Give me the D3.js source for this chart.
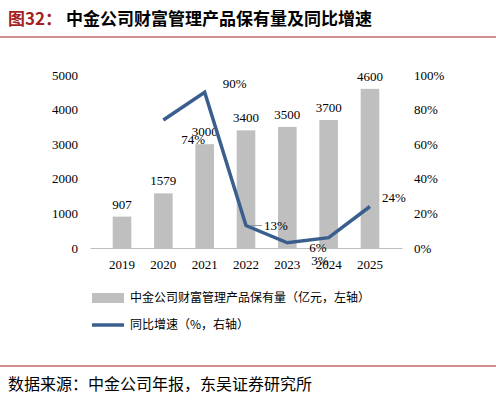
<!DOCTYPE html><html><head><meta charset="utf-8"><script src="https://cdn.jsdelivr.net/npm/d3@7"></script>
<style>body{margin:0;background:#fff}</style></head><body><svg id="c" width="496" height="402"></svg>
<script>
const years=["2019","2020","2021","2022","2023","2024","2025"];
const aum=[907,1579,3000,3400,3500,3700,4600];
const growth=[null,74,90,13,3,6,24];
const leftTicks=[0,1000,2000,3000,4000,5000];
const rightTicks=[0,20,40,60,80,100];
const svg=d3.select("#c");
const serif="'Liberation Serif','Times New Roman',serif", cjk="'Noto Sans CJK SC',sans-serif";
const t=svg.append("text").attr("x",8).attr("y",25).attr("font-family",cjk).attr("font-weight","bold").attr("font-size",17);
t.append("tspan").attr("fill","#a31f24").text("图32：");
t.append("tspan").attr("fill","#000").text(" 中金公司财富管理产品保有量及同比增速");
svg.append("line").attr("x1",0).attr("x2",496).attr("y1",37).attr("y2",37).attr("stroke","#a31f24").attr("stroke-width",1);
const x=d3.scaleBand().domain(years).range([90,402]).padding(0.55);
const y=d3.scaleLinear().domain([0,5000]).range([248,75]);
const y2=d3.scaleLinear().domain([0,100]).range([248,75]);
const ga=svg.append("g").attr("transform","translate(88,0)").call(d3.axisLeft(y).tickValues(leftTicks).tickSize(0).tickPadding(10).tickFormat(d=>String(d)));
ga.select(".domain").remove();
const gb=svg.append("g").attr("transform","translate(404,0)").call(d3.axisRight(y2).tickValues(rightTicks).tickSize(0).tickPadding(10).tickFormat(d=>d+"%"));
gb.select(".domain").remove();
const gx=svg.append("g").attr("transform","translate(0,248)").call(d3.axisBottom(x).tickSize(0).tickPadding(12));
gx.select(".domain").attr("stroke","#bfbfbf");
svg.selectAll(".tick text").attr("font-family",serif).attr("font-size",13).attr("fill","#000");
svg.selectAll(".bar").data(aum).join("rect").attr("x",(d,i)=>x(years[i])).attr("width",x.bandwidth()).attr("y",d=>y(d)).attr("height",d=>248-y(d)).attr("fill","#bfbfbf");
svg.selectAll(".bl").data(aum).join("text").attr("x",(d,i)=>x(years[i])+x.bandwidth()/2).attr("y",d=>y(d)-8).attr("text-anchor","middle").attr("font-family",serif).attr("font-size",13).text(d=>d);
const cx=i=>x(years[i])+x.bandwidth()/2;
const pts=growth.map((d,i)=>[i,d]).filter(p=>p[1]!=null);
svg.append("path").datum(pts).attr("d",d3.line().x(p=>cx(p[0])).y(p=>y2(p[1]))).attr("fill","none").attr("stroke","#3a5f8f").attr("stroke-width",3.5);
const off={1:[18,24,"start"],2:[18,-4,"start"],3:[18,4,"start"],4:[24,22,"start"],5:[-2,14,"end"],6:[12,-4,"start"]};
pts.forEach(([i,d])=>{const o=off[i];svg.append("text").attr("x",cx(i)+o[0]).attr("y",y2(d)+o[1]).attr("text-anchor",o[2]).attr("font-family",serif).attr("font-size",13).text(d+"%");});
svg.append("line").attr("x1",cx(3)+4).attr("x2",cx(3)+16).attr("y1",y2(13)).attr("y2",y2(13)).attr("stroke","#999");
svg.append("rect").attr("x",92).attr("y",293).attr("width",32).attr("height",10).attr("fill","#bfbfbf");
svg.append("text").attr("x",130).attr("y",302).attr("font-family",cjk).attr("font-size",12).text("中金公司财富管理产品保有量（亿元，左轴）");
svg.append("line").attr("x1",92).attr("x2",124).attr("y1",325).attr("y2",325).attr("stroke","#3a5f8f").attr("stroke-width",3.5);
svg.append("text").attr("x",130).attr("y",329).attr("font-family",cjk).attr("font-size",12).text("同比增速（%，右轴）");
svg.append("line").attr("x1",0).attr("x2",496).attr("y1",366).attr("y2",366).attr("stroke","#a31f24");
svg.append("text").attr("x",8).attr("y",390).attr("font-family",cjk).attr("font-size",16).text("数据来源：中金公司年报，东吴证券研究所");
</script></body></html>
